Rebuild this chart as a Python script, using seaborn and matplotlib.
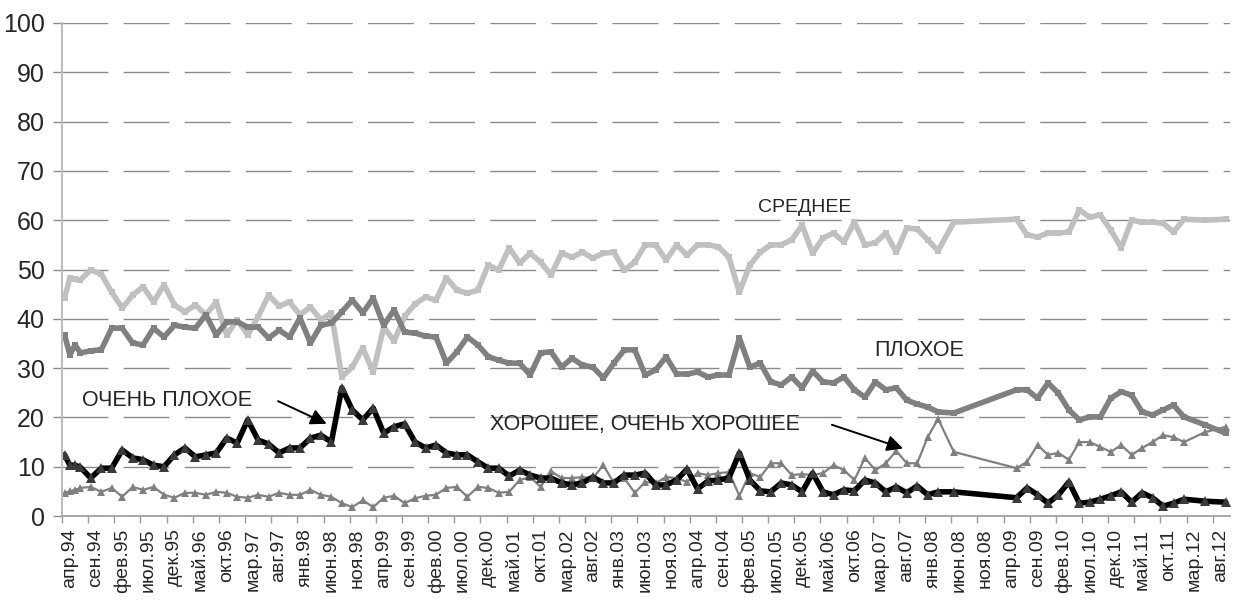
import matplotlib
matplotlib.use("Agg")
import matplotlib.pyplot as plt
import matplotlib.font_manager as fm
import seaborn as sns
import pandas as pd
import numpy as np

# months since apr.94 for each survey wave
months = [0, 1, 2, 3, 5, 7, 9, 11, 13, 15, 17, 19, 21, 23, 25, 27, 29, 31, 33, 35,
          37, 39, 41, 43, 45, 47, 49, 51, 53, 55, 57, 59, 61, 63, 65, 67,
          69, 71, 73, 75, 77, 79, 81, 83, 85, 87, 89, 91, 93, 95, 97, 99, 101, 103,
          105, 107, 109, 111, 113, 115, 117, 119, 121, 123, 125, 127, 129, 131, 133,
          135, 137, 139, 141, 143,
          145, 147, 149, 151, 153, 155, 157, 159, 161, 163, 165, 167, 170,
          182, 184, 186, 188, 190, 192, 194, 196, 198, 200, 202, 204, 206, 208,
          210, 212, 214, 218, 222]

srednee = [44.2, 48.3, 48.0, 47.9, 49.9, 49.1, 45.4, 42.2, 44.8, 46.5, 43.4, 46.9,
           42.8, 41.4, 42.8, 40.8, 43.4, 36.7, 39.8, 36.7, 40.4, 44.8, 42.6, 43.4,
           40.8, 42.4, 39.8, 41.2, 28.2, 30.2, 34.1, 29.2, 38.3, 35.5, 40.5, 43.0,
           44.4, 43.8, 48.3, 45.8, 45.2, 45.8, 50.9, 49.9, 54.4, 51.3, 53.3, 51.5,
           48.9, 53.3, 52.5, 53.5, 52.3, 53.3, 53.5, 49.9, 51.5, 55.0, 55.0, 51.9,
           55.0, 52.9, 55.0, 55.0, 54.6, 52.5, 45.4, 50.9, 53.5, 55.0, 55.0, 56.0,
           59.0, 53.3,
           56.4, 57.4, 55.6, 59.6, 55.0, 55.4, 57.4, 53.5, 58.4, 58.2, 56.0, 53.8,
           59.6, 60.2, 57.0, 56.6, 57.4, 57.4, 57.6, 62.1, 60.6, 61.1, 58.0, 54.4,
           60.0, 59.6, 59.6, 59.4, 57.6, 60.2, 60.0, 60.2]

plohoe = [36.7, 32.7, 34.7, 33.1, 33.5, 33.7, 38.1, 38.1, 35.1, 34.7, 38.1, 36.3,
          38.7, 38.3, 38.1, 40.8, 36.7, 39.4, 39.4, 38.3, 38.3, 36.1, 37.7, 36.3,
          40.2, 35.1, 38.7, 39.1, 41.4, 43.8, 41.2, 44.2, 38.7, 41.8, 37.3, 37.1,
          36.5, 36.3, 31.0, 33.3, 36.3, 34.7, 32.3, 31.6, 31.0, 31.0, 28.6, 33.1,
          33.3, 30.2, 32.0, 30.6, 30.2, 28.0, 31.0, 33.7, 33.7, 28.6, 29.6, 32.3,
          28.8, 28.8, 29.2, 28.2, 28.6, 28.6, 36.1, 30.2, 31.0, 27.2, 26.6, 28.2,
          26.0, 29.4,
          27.2, 27.0, 28.2, 25.6, 24.1, 27.2, 25.6, 26.0, 23.5, 22.7, 22.1, 21.1,
          20.9, 25.6, 25.6, 23.9, 27.0, 24.9, 21.5, 19.5, 20.1, 20.1, 23.9, 25.2,
          24.5, 21.1, 20.5, 21.5, 22.5, 20.1, 18.5, 16.8]

ochen_plohoe = [12.4, 10.3, 10.3, 9.9, 7.7, 9.7, 9.7, 13.4, 11.8, 11.4, 10.3, 10.0,
                12.4, 13.8, 12.0, 12.4, 12.8, 15.8, 14.8, 19.5, 15.4, 14.6, 12.8, 13.8,
                13.8, 15.8, 16.4, 15.0, 26.0, 21.5, 19.5, 21.9, 16.8, 18.1, 18.7, 15.0,
                13.8, 14.4, 12.8, 12.4, 12.4, 11.0, 9.7, 9.7, 8.1, 9.3, 8.3, 7.7,
                7.7, 6.7, 6.3, 6.7, 7.9, 6.7, 6.7, 8.3, 8.3, 8.7, 6.3, 6.3,
                7.3, 9.5, 5.5, 7.1, 7.3, 7.7, 12.8, 7.3, 5.1, 4.9, 6.7, 6.3,
                4.9, 8.7,
                4.9, 4.3, 5.3, 5.1, 7.3, 6.7, 4.9, 5.9, 4.7, 6.1, 4.3, 4.9,
                4.9, 3.7, 5.7, 4.3, 2.6, 4.3, 6.9, 2.6, 2.8, 3.4, 4.1, 4.9,
                2.8, 4.7, 3.7, 2.0, 2.6, 3.4, 3.0, 2.8]

horoshee = [4.7, 5.0, 5.3, 5.7, 5.9, 4.9, 5.7, 3.9, 5.9, 5.3, 5.9, 4.3,
            3.7, 4.7, 4.7, 4.3, 4.9, 4.7, 3.9, 3.7, 4.3, 3.9, 4.7, 4.3,
            4.3, 5.3, 4.3, 3.9, 2.6, 1.8, 3.2, 1.8, 3.7, 4.1, 2.6, 3.6,
            4.1, 4.3, 5.7, 5.9, 3.9, 5.9, 5.7, 4.7, 4.9, 7.3, 7.9, 5.9,
            9.1, 7.7, 7.7, 7.9, 7.7, 10.3, 6.7, 7.7, 4.7, 6.9, 6.7, 7.9,
            7.7, 6.9, 8.7, 8.3, 8.7, 8.9, 4.1, 8.7, 7.9, 10.7, 10.7, 8.3,
            8.5, 8.3,
            8.7, 10.3, 9.3, 7.3, 11.8, 9.3, 10.7, 13.2, 10.7, 10.7, 16.0, 19.7,
            13.0, 9.7, 11.0, 14.4, 12.4, 12.8, 11.4, 15.0, 15.0, 14.0, 13.0, 14.4,
            12.4, 13.8, 15.0, 16.4, 16.0, 15.0, 17.0, 18.1]

tick_labels = ['апр.94', 'сен.94', 'фев.95', 'июл.95', 'дек.95', 'май.96', 'окт.96',
               'мар.97', 'авг.97', 'янв.98', 'июн.98', 'ноя.98', 'апр.99', 'сен.99',
               'фев.00', 'июл.00', 'дек.00', 'май.01', 'окт.01', 'мар.02', 'авг.02',
               'янв.03', 'июн.03', 'ноя.03', 'апр.04', 'сен.04', 'фев.05', 'июл.05',
               'дек.05', 'май.06', 'окт.06', 'мар.07', 'авг.07', 'янв.08', 'июн.08',
               'ноя.08', 'апр.09', 'сен.09', 'фев.10', 'июл.10', 'дек.10', 'май.11',
               'окт.11', 'мар.12', 'авг.12']

df = pd.DataFrame({"month": np.array(months) + 0.5,
                   "srednee": srednee, "plohoe": plohoe,
                   "ochen_plohoe": ochen_plohoe, "horoshee": horoshee})

sns.set_style("white")
installed = {f.name for f in fm.fontManager.ttflist}
narrow = "Liberation Sans Narrow" if "Liberation Sans Narrow" in installed else "Liberation Sans"
plt.rcParams['font.family'] = ['Liberation Sans', 'DejaVu Sans']

fig = plt.figure(figsize=(12.41, 6.04), dpi=100)
ax = fig.add_axes([62 / 1241, 1 - 516 / 604, (1230 - 62) / 1241, (516 - 23) / 604])

# series
sns.lineplot(data=df, x="month", y="horoshee", ax=ax, color="#808080", lw=1.6,
             marker="^", markersize=6, markeredgewidth=0, sort=False)
sns.lineplot(data=df, x="month", y="srednee", ax=ax, color="#C0C0C0", lw=4.0,
             marker="s", markersize=4.5, markeredgewidth=0, sort=False)
sns.lineplot(data=df, x="month", y="plohoe", ax=ax, color="#808080", lw=4.0,
             marker="s", markersize=4.5, markeredgewidth=0, sort=False)
sns.lineplot(data=df, x="month", y="ochen_plohoe", ax=ax, color="#000000", lw=4.0,
             marker="^", markersize=6.5, markeredgewidth=0, markerfacecolor="#3a3a3a",
             sort=False)

ax.set_xlim(0, 223.3)
ax.set_ylim(0, 100)
ax.set_xlabel("")
ax.set_ylabel("")

# grid
ax.set_yticks(range(0, 101, 10))
ax.yaxis.grid(True, color="#8a8a8a", lw=1.0, linestyle=(0, (33, 11)))
ax.xaxis.grid(False)
ax.set_axisbelow(True)

for s in ["top", "right"]:
    ax.spines[s].set_visible(False)
ax.spines["left"].set_color("#bdbdbd")
ax.spines["left"].set_linewidth(1.5)
ax.spines["bottom"].set_color("#9a9a9a")
ax.spines["bottom"].set_linewidth(1.2)

ax.tick_params(axis="y", length=6.5, width=1, color="#8a8a8a", pad=6,
               labelsize=18, left=True)
for lab in ax.get_yticklabels():
    lab.set_family([narrow, 'DejaVu Sans'])

# x: ticks every 5 months, labels as minor ticks
ax.set_xticks(np.arange(0, 221, 5))
ax.set_xticklabels([])
ax.tick_params(axis="x", which="major", length=5, width=1, color="#9a9a9a", bottom=True)
ax.set_xticks(np.arange(0, 221, 5) + 1.5, minor=True)
ax.set_xticklabels(tick_labels, minor=True, rotation=90, fontsize=14)
ax.tick_params(axis="x", which="minor", length=0, pad=9)

# annotations
ax.text(133, 62.5, "СРЕДНЕЕ", fontsize=14, family=[narrow, 'DejaVu Sans'],
        ha="left", va="center")
ax.text(155.3, 33.5, "ПЛОХОЕ", fontsize=15.5, ha="left", va="center")
ax.text(3.9, 23.4, "ОЧЕНЬ ПЛОХОЕ", fontsize=15.5, ha="left", va="center")
ax.text(81.8, 18.6, "ХОРОШЕЕ, ОЧЕНЬ ХОРОШЕЕ", fontsize=15.5, ha="left", va="center")
ax.annotate("", xy=(50.6, 18.7), xytext=(41.3, 23.3),
            arrowprops=dict(arrowstyle="-|>", color="black", lw=1.4,
                            mutation_scale=24, shrinkA=0, shrinkB=0))
ax.annotate("", xy=(160.8, 13.7), xytext=(147.2, 18.5),
            arrowprops=dict(arrowstyle="-|>", color="black", lw=1.4,
                            mutation_scale=24, shrinkA=0, shrinkB=0))

plt.savefig("out.png", dpi=100)
